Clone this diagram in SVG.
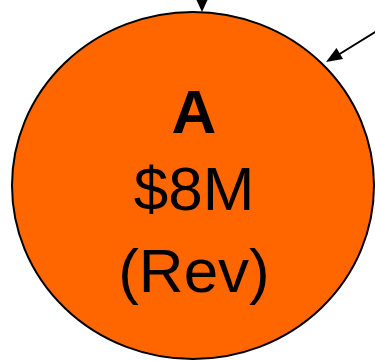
<svg xmlns="http://www.w3.org/2000/svg" width="375" height="361" viewBox="0 0 375 361">
<style>
.lbl{font-family:"Liberation Sans",Arial,sans-serif;font-size:62px;fill:#000;text-anchor:middle}
.b{font-weight:bold}
.edge{stroke:#000;stroke-width:2;fill:none}
.head{fill:#000;stroke:none}
</style>
<g id="node-A">
<ellipse cx="193" cy="185.5" rx="181" ry="173.5" fill="#ff6600" stroke="#000" stroke-width="2"/>
<text class="lbl b" x="194" y="133">A</text>
<text class="lbl" x="194" y="210">$8M</text>
<text class="lbl" x="194" y="292">(Rev)</text>
</g>
<g id="connectors">
<line class="edge" x1="202" y1="-5" x2="202" y2="2"/>
<polygon class="head" points="196.5,0 207.5,0 202,12"/>
<line class="edge" x1="380" y1="29" x2="338" y2="55"/>
<polygon class="head" points="326,62 343,59 336.5,48"/>
</g>
</svg>
